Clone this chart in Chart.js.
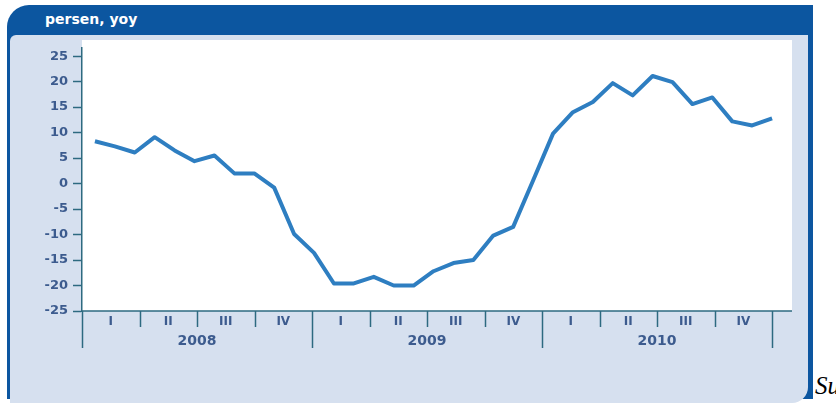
<!DOCTYPE html>
<html>
<head>
<meta charset="utf-8">
<script src="https://cdn.jsdelivr.net/npm/chart.js@4.4.0/dist/chart.umd.min.js"></script>
<style>
  html, body { margin: 0; padding: 0; background: #ffffff; overflow: hidden; }
  #wrap { position: relative; width: 836px; height: 403px; overflow: hidden; }
  #frame { position: absolute; left: 7px; top: 5px; width: 806px; height: 394px; background: #0c56a0; border-top-left-radius: 22px; }
  #inner { position: absolute; left: 10px; top: 35px; width: 798px; height: 368px; background: #d6e0ef; border-top-left-radius: 6px; border-bottom-right-radius: 16px; }
  #plotBg { position: absolute; left: 82px; top: 40px; width: 710px; height: 271px; background: #ffffff; }
  #title { position: absolute; left: 45px; top: 11px; color: #ffffff; font: bold 14px "DejaVu Sans", sans-serif; }
  #source { position: absolute; left: 815px; top: 372px; color: #000000; font: italic 25px "Liberation Serif", serif; white-space: nowrap; }
  canvas { position: absolute; left: 0; top: 0; }
</style>
</head>
<body>
<div id="wrap">
  <div id="frame"></div>
  <div id="inner"></div>
  <div id="plotBg"></div>
  <div id="title">persen, yoy</div>
  <div id="source">Sumber</div>
  <canvas id="myChart" width="836" height="403"></canvas>
</div>
<script>
// data: monthly growth, Jan 2008 - Nov 2010
var values2008 = [8.3, 7.3, 6.1, 9.1, 6.5, 4.4, 5.5, 2.0, 2.0, -0.8, -9.9, -13.6];
var values2009 = [-19.6, -19.6, -18.3, -20.0, -20.0, -17.2, -15.6, -15.0, -10.2, -8.5, 0.6, 9.8];
var values2010 = [14.0, 16.0, 19.7, 17.3, 21.1, 19.9, 15.6, 16.9, 12.2, 11.4, 12.8];
var years = ['2008', '2009', '2010'];
var quarters = ['I', 'II', 'III', 'IV'];
var yTicks = [-25, -20, -15, -10, -5, 0, 5, 10, 15, 20, 25];

var values = values2008.concat(values2009, values2010);
var points = values.map(function (v, i) { return { x: i, y: v }; });

var axisColor = '#2d6a80';
var labelColor = '#3c5b8e';

// quarter / year labels under the plot
var quarterAxis = {
    id: 'quarterAxis',
    afterDraw: function (chart) {
        var ctx = chart.ctx;
        var m = chart.scales.m;
        var area = chart.chartArea;
        var base = area.bottom;
        ctx.save();
        ctx.strokeStyle = axisColor;
        ctx.lineWidth = 1.5;
        ctx.beginPath();
        ctx.moveTo(area.left, base);
        ctx.lineTo(area.right, base);
        ctx.stroke();
        for (var q = 0; q <= years.length * 4; q++) {
            var x = Math.round(m.getPixelForValue(q * 3)) + 0.5;
            var len = (q % 4 === 0) ? 37 : 16;
            ctx.beginPath();
            ctx.moveTo(x, base);
            ctx.lineTo(x, base + len);
            ctx.stroke();
        }
        ctx.fillStyle = labelColor;
        ctx.textAlign = 'center';
        ctx.textBaseline = 'middle';
        years.forEach(function (yr, i) {
            ctx.font = 'bold 12px "DejaVu Sans", sans-serif';
            quarters.forEach(function (qt, j) {
                ctx.fillText(qt, m.getPixelForValue(i * 12 + j * 3 + 1.5), base + 11);
            });
            ctx.font = 'bold 14px "DejaVu Sans", sans-serif';
            ctx.fillText(yr, m.getPixelForValue(i * 12 + 6), base + 30);
        });
        ctx.restore();
    }
};

var ctx = document.getElementById('myChart').getContext('2d');
var myChart = new Chart(ctx, {
    type: 'line',
    data: {
        datasets: [{
            label: 'persen, yoy',
            data: points,
            borderColor: '#2e7ec1',
            borderWidth: 4,
            borderJoinStyle: 'round',
            pointRadius: 0,
            tension: 0,
            fill: false
        }]
    },
    options: {
        responsive: false,
        animation: false,
        layout: { padding: { left: 7, top: 48, right: 44, bottom: 92 } },
        plugins: {
            legend: { display: false },
            tooltip: { enabled: false }
        },
        scales: {
            x: { type: 'linear', display: false, min: -0.65, max: 35.0 },
            m: { type: 'linear', axis: 'x', position: 'bottom', display: false, min: 0, max: 37.04 },
            y: {
                min: -25,
                max: 26.6,
                afterFit: function (scale) { scale.width = 75; },
                afterBuildTicks: function (scale) {
                    scale.ticks = yTicks.map(function (v) { return { value: v }; });
                },
                grid: { drawOnChartArea: false, tickLength: 9, tickColor: axisColor, tickWidth: 1.5 },
                border: { color: axisColor, width: 1.5 },
                ticks: {
                    padding: 5,
                    color: labelColor,
                    font: { family: 'DejaVu Sans', size: 13, weight: 'bold' }
                }
            }
        }
    },
    plugins: [quarterAxis]
});
</script>
</body>
</html>
